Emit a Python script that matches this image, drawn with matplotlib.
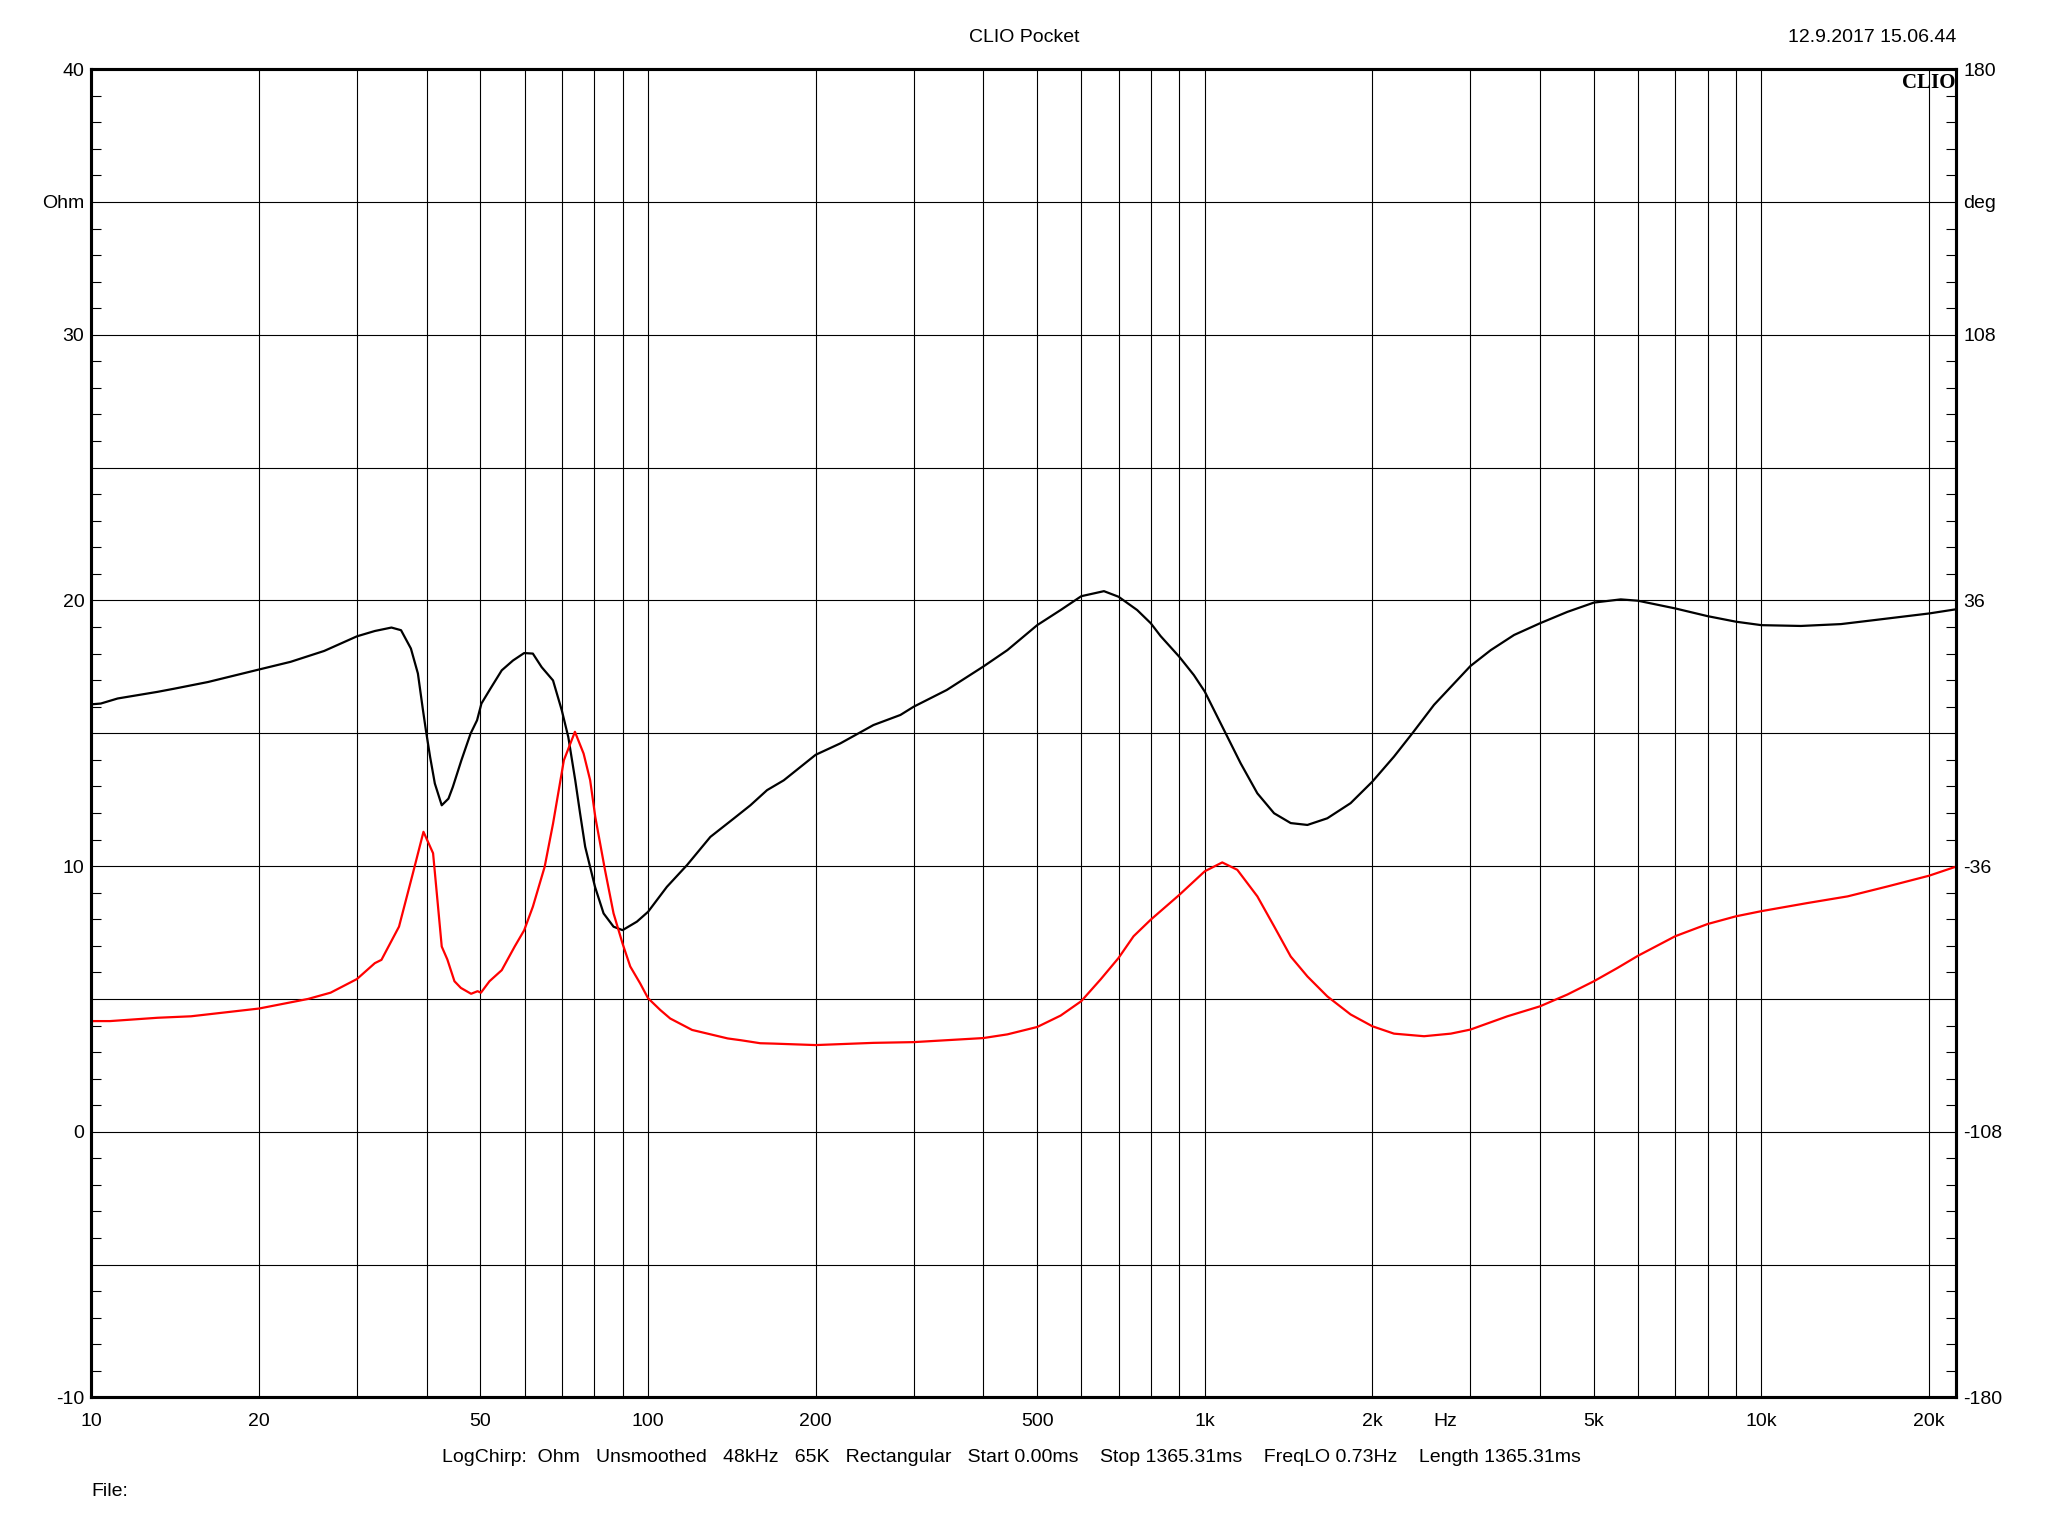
import matplotlib
matplotlib.use('Agg')
import matplotlib.pyplot as plt
from matplotlib.ticker import FixedLocator, MultipleLocator, NullLocator
import matplotlib.transforms as mtransforms

plt.rcParams['font.family'] = ['Liberation Sans', 'DejaVu Sans']

# 阻抗曲线 (黑色, Ohm, 左轴)
imp_freq = [10, 10.4, 11.15, 13.15, 14.1, 16.2, 20, 22.8, 26.2, 30, 32.3, 34.6, 36,
            37.5, 38.6, 39.4, 39.9, 40.6, 41.4, 42.6, 43.8, 44.6, 46.2, 48, 49.3, 50.2,
            52.1, 54.6, 57.2, 59.9, 62.1, 64.4, 67.5, 70, 71.9, 74, 75.5, 77.1, 80.3,
            83.2, 86.7, 90, 95.5, 100, 108.1, 117.5, 129.4, 142.5, 152.7, 163.6, 175.3,
            200, 221.5, 254, 284, 300, 344, 400, 442, 500, 551, 600, 659, 700, 756,
            800, 833, 900, 956, 1000, 1053, 1098, 1160, 1243, 1332, 1427, 1529, 1660,
            1828, 2000, 2187, 2360, 2581, 3000, 3264, 3594, 4000, 4481, 5000, 5588,
            6000, 7000, 8000, 9000, 10000, 11770, 13890, 15940, 20000, 22400]
imp_ohm = [16.09, 16.12, 16.31, 16.56, 16.68, 16.93, 17.40, 17.69, 18.10, 18.65, 18.85,
           18.98, 18.88, 18.19, 17.25, 15.90, 15.11, 14.11, 13.11, 12.29, 12.54, 12.98,
           13.98, 14.99, 15.49, 16.12, 16.68, 17.37, 17.74, 18.02, 18.00, 17.49, 16.99,
           15.86, 14.86, 13.23, 11.98, 10.73, 9.22, 8.22, 7.72, 7.59, 7.91, 8.28, 9.22,
           10.04, 11.10, 11.79, 12.29, 12.86, 13.23, 14.19, 14.62, 15.31, 15.69, 16.00,
           16.63, 17.51, 18.13, 19.07, 19.64, 20.16, 20.35, 20.14, 19.64, 19.14, 18.66,
           17.88, 17.19, 16.57, 15.63, 14.87, 13.87, 12.74, 11.99, 11.62, 11.55, 11.80,
           12.37, 13.18, 14.12, 15.00, 16.07, 17.53, 18.13, 18.70, 19.14, 19.57, 19.92,
           20.04, 19.99, 19.70, 19.41, 19.20, 19.07, 19.04, 19.11, 19.26, 19.51, 19.67]

# 相位曲线 (红色, deg, 右轴)
ph_freq = [10, 10.8, 13.15, 15.1, 20, 24.5, 26.9, 30, 32.3, 33.2, 35.7, 37.8, 39.5,
           41.1, 42.6, 43.6, 44.9, 46.1, 48.1, 49.4, 50.1, 51.9, 54.6, 57.6, 59.9,
           62.1, 65.2, 67.5, 70.6, 73.9, 76.6, 78.7, 80.4, 83.7, 86.7, 90, 92.9, 96.8,
           100, 105.2, 109.6, 120, 139, 147, 159, 168, 200, 254, 300, 400, 442, 500,
           551, 600, 650, 700, 745, 800, 833, 900, 1000, 1075, 1144, 1243, 1332, 1427,
           1529, 1660, 1828, 2000, 2187, 2477, 2767, 3000, 3496, 4000, 4481, 5000,
           5512, 6000, 7000, 8000, 9000, 10000, 12100, 14280, 16850, 20000, 22400]
ph_deg = [-78.0, -78.0, -77.1, -76.7, -74.6, -72.0, -70.3, -66.6, -62.3, -61.4, -52.4,
          -38.0, -26.7, -32.5, -57.8, -61.3, -67.2, -69.0, -70.6, -69.9, -70.3, -67.2,
          -64.2, -57.8, -53.4, -47.0, -36.2, -24.5, -7.3, 0.4, -5.5, -12.7, -22.7,
          -37.1, -48.8, -57.0, -63.2, -67.8, -71.8, -75.0, -77.3, -80.4, -82.7, -83.2,
          -84.0, -84.1, -84.5, -83.9, -83.7, -82.6, -81.6, -79.6, -76.5, -72.6, -66.7,
          -60.9, -55.0, -50.5, -48.2, -43.8, -37.4, -35.0, -37.0, -44.2, -52.3, -60.5,
          -65.9, -71.3, -76.2, -79.4, -81.4, -82.1, -81.4, -80.3, -76.7, -74.0, -70.8,
          -67.2, -63.6, -60.3, -55.0, -51.7, -49.6, -48.2, -46.0, -44.2, -41.5, -38.6,
          -36.1]

# 坐标轴刻度
grid_freqs = [m * d for d in (10, 100, 1000) for m in range(1, 10)] + [10000, 20000]
x_labels = {10: '10', 20: '20', 50: '50', 100: '100', 200: '200', 500: '500',
            1000: '1k', 2000: '2k', 5000: '5k', 10000: '10k', 20000: '20k'}
ohm_ticks = [-10, -5, 0, 5, 10, 15, 20, 25, 30, 35, 40]
ohm_labels = ['-10', '', '0', '', '10', '', '20', '', '30', 'Ohm', '40']
deg_ticks = [-180, -144, -108, -72, -36, 0, 36, 72, 108, 144, 180]
deg_labels = ['-180', '', '-108', '', '-36', '', '36', '', '108', 'deg', '180']

info = ('LogChirp:  Ohm   Unsmoothed   48kHz   65K   Rectangular   Start 0.00ms    '
        'Stop 1365.31ms    FreqLO 0.73Hz    Length 1365.31ms')

fs = 14
xpad = 11.5  # x 刻度标签与坐标轴的间距 (pt)

fig = plt.figure(figsize=(20.48, 15.36), dpi=100)
ax = fig.add_axes([0.0446, 0.0902, 0.9107, 0.8648])
ax2 = ax.twinx()

ax.set_xscale('log')
ax.set_xlim(10, 22400)
ax.set_ylim(-10, 40)
ax2.set_ylim(-180, 180)

ax.xaxis.set_major_locator(FixedLocator(grid_freqs))
ax.xaxis.set_minor_locator(NullLocator())
ax.set_xticklabels([x_labels.get(f, '') for f in grid_freqs])
ax.set_yticks(ohm_ticks)
ax.set_yticklabels(ohm_labels)
ax.yaxis.set_minor_locator(MultipleLocator(1))
ax2.set_yticks(deg_ticks)
ax2.set_yticklabels(deg_labels)
ax2.yaxis.set_minor_locator(MultipleLocator(7.2))

ax.grid(True, which='major', color='black', linewidth=0.8)
ax.tick_params(axis='x', which='major', length=0, pad=xpad, labelsize=fs)
ax.tick_params(axis='y', which='major', length=0, pad=5, labelsize=fs)
ax.tick_params(axis='y', which='minor', direction='in', length=7, width=0.8)
ax2.tick_params(axis='y', which='major', length=0, pad=5, labelsize=fs)
ax2.tick_params(axis='y', which='minor', direction='in', length=7, width=0.8)

for a in (ax, ax2):
    for sp in a.spines.values():
        sp.set_linewidth(2.2)

ax.plot(imp_freq, imp_ohm, color='black', linewidth=1.6)
ax2.plot(ph_freq, ph_deg, color='red', linewidth=1.6)

# 'Hz' 单位标签位于 2k 与 3k 之间, 与刻度标签同一高度
hz_trans = (mtransforms.blended_transform_factory(ax.transData, ax.transAxes)
            + mtransforms.ScaledTranslation(0, -xpad / 72, fig.dpi_scale_trans))
ax.text(2700, 0, 'Hz', transform=hz_trans, ha='center', va='top', fontsize=fs)

ax.text(0.9995, 0.997, 'CLIO', transform=ax.transAxes, ha='right', va='top',
        fontsize=15, fontweight='bold', family=['Liberation Serif', 'DejaVu Serif'], zorder=5)

fig.text(0.5, 1 - 37 / 1536, 'CLIO Pocket', ha='center', va='center', fontsize=fs)
fig.text(0.9553, 1 - 37 / 1536, '12.9.2017 15.06.44', ha='right', va='center', fontsize=fs)
fig.text(0.494, 1 - 1458 / 1536, info, ha='center', va='center', fontsize=fs)
fig.text(0.0446, 1 - 1492 / 1536, 'File:', ha='left', va='center', fontsize=fs)

plt.savefig('out.png', dpi=100)
